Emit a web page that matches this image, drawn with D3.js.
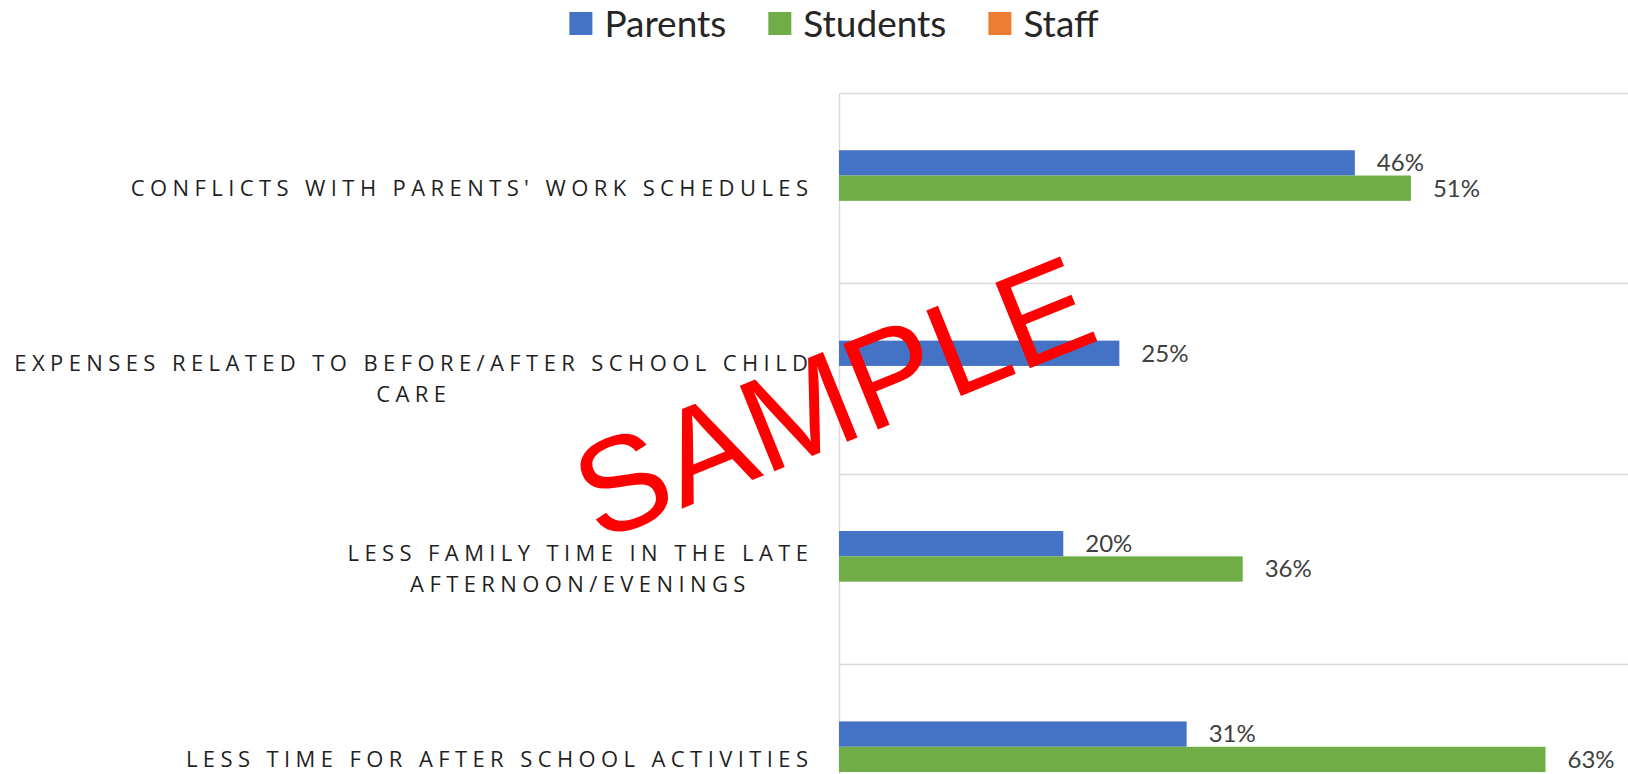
<!DOCTYPE html>
<html>
<head>
<meta charset="utf-8">
<script src="https://cdn.jsdelivr.net/npm/d3@7"></script>
<style>
    body { margin: 0; background: #ffffff; }
    .cat_label { font-family: "Open Sans", sans-serif; font-size: 22px; fill: #1f1f1f; letter-spacing: 5.4px; }
    .bar_label { font-family: Lato, sans-serif; font-size: 24px; fill: #404040; }
    .legend_label { font-family: Lato, sans-serif; font-size: 37px; fill: #262626; }
</style>
</head>
<body>
<div class="bar_chart"></div>
<script>
// data
const seriesNames = ["Parents", "Students", "Staff"]
const seriesColors = ["#4472C4", "#70AD47", "#ED7D31"]

const categoryLines = [
    ["CONFLICTS WITH PARENTS' WORK SCHEDULES"],
    ["EXPENSES RELATED TO BEFORE/AFTER SCHOOL CHILD", "CARE"],
    ["LESS FAMILY TIME IN THE LATE", "AFTERNOON/EVENINGS"],
    ["LESS TIME FOR AFTER SCHOOL ACTIVITIES"]
]
const categories = categoryLines.map(l => l.join(" "))

const parentsValues = [0.46, 0.25, 0.20, 0.31]
const studentsValues = [0.51, null, 0.36, 0.63]
const staffValues = [null, null, null, null]

const xMax = 0.7

function drawBars() {

    const values = [parentsValues, studentsValues, staffValues]
    const letterSpacing = 5.4

    let dimensions = {
        width: 1628,
        height: 774,
        margin: {
            top: 93,
            right: 4,
            left: 839,
        }
    }
    dimensions.bandHeight = 190.4

    const wrapper = d3.select(".bar_chart")
        .append("svg")
        .attr("width", dimensions.width)
        .attr("height", dimensions.height)
        .style("display", "block")

    wrapper.append("rect")
        .attr("width", dimensions.width)
        .attr("height", dimensions.height)
        .attr("fill", "#ffffff")

    // scales
    const xScale = d3.scaleLinear()
        .domain([0, xMax])
        .range([dimensions.margin.left, dimensions.width - dimensions.margin.right])

    const yScale = d3.scaleBand()
        .domain(categories)
        .range([dimensions.margin.top, dimensions.margin.top + dimensions.bandHeight * categories.length])
        .padding(0)

    // excel-like wide gap between the groups
    const ySub = d3.scaleBand()
        .domain(seriesNames)
        .range([0, yScale.bandwidth()])
        .paddingInner(0)
        .paddingOuter(2.26)

    // gridlines
    const grid = wrapper.append("g")
    grid.selectAll("line")
        .data(categories)
        .join("line")
        .attr("x1", xScale(0))
        .attr("x2", dimensions.width)
        .attr("y1", d => Math.round(yScale(d)) + 0.5)
        .attr("y2", d => Math.round(yScale(d)) + 0.5)
        .attr("stroke", "#d9d9d9")
        .attr("stroke-width", 1.5)

    // axis line
    const yAxisGenerator = d3.axisLeft(yScale)
        .tickSize(0)
        .tickSizeOuter(0)
        .tickFormat("")
    const yAxis = wrapper.append("g")
        .attr("transform", `translate(${xScale(0)},0)`)
        .call(yAxisGenerator)
    yAxis.select(".domain")
        .attr("stroke", "#d9d9d9")
        .attr("stroke-width", 1.5)

    // bars
    const rows = []
    categories.forEach((c, i) => {
        seriesNames.forEach((s, j) => {
            const v = values[j][i]
            if (v != null) rows.push({ category: c, series: s, color: seriesColors[j], value: v })
        })
    })

    wrapper.append("g")
        .selectAll("rect")
        .data(rows)
        .join("rect")
        .attr("x", xScale(0))
        .attr("y", d => yScale(d.category) + ySub(d.series))
        .attr("width", d => xScale(d.value) - xScale(0))
        .attr("height", ySub.bandwidth())
        .attr("fill", d => d.color)

    const format = d3.format(".0%")
    wrapper.append("g")
        .selectAll("text")
        .data(rows)
        .join("text")
        .attr("class", "bar_label")
        .attr("x", d => xScale(d.value) + 22)
        .attr("y", d => yScale(d.category) + ySub(d.series) + ySub.bandwidth() / 2)
        .attr("dy", "0.35em")
        .text(d => format(d.value))

    // category labels
    const labelRight = xScale(0) - 31
    const lineGap = 31
    const catGroup = wrapper.append("g")
    categoryLines.forEach((lines, i) => {
        const cy = yScale(categories[i]) + yScale.bandwidth() / 2
        const g = catGroup.append("g")
        const texts = lines.map((line, k) => g.append("text")
            .attr("class", "cat_label")
            .attr("y", cy + (k - (lines.length - 1) / 2) * lineGap)
            .attr("dy", "0.35em")
            .text(line))
        const widths = texts.map(t => t.node().getComputedTextLength() - letterSpacing)
        const maxW = d3.max(widths)
        const centerX = labelRight - maxW / 2
        texts.forEach((t, k) => t.attr("x", centerX - widths[k] / 2))
    })

    // legend
    const legend = wrapper.append("g")
    let lx = 0
    seriesNames.forEach((s, j) => {
        legend.append("rect")
            .attr("x", lx)
            .attr("y", 12)
            .attr("width", 23)
            .attr("height", 23)
            .attr("fill", seriesColors[j])
        const t = legend.append("text")
            .attr("class", "legend_label")
            .attr("x", lx + 35)
            .attr("y", 24)
            .attr("dy", "0.35em")
            .text(s)
        lx += 35 + t.node().getComputedTextLength() + 42
    })
    const legendW = lx - 42
    legend.attr("transform", `translate(${834 - legendW / 2},0)`)

    // watermark
    wrapper.append("text")
        .attr("transform", "translate(833,397) rotate(-22)")
        .attr("text-anchor", "middle")
        .attr("dy", "0.35em")
        .style("font-family", "'Liberation Sans', Arial, sans-serif")
        .style("font-size", "134px")
        .attr("fill", "#ff0000")
        .text("SAMPLE")
}

drawBars()
</script>
</body>
</html>
